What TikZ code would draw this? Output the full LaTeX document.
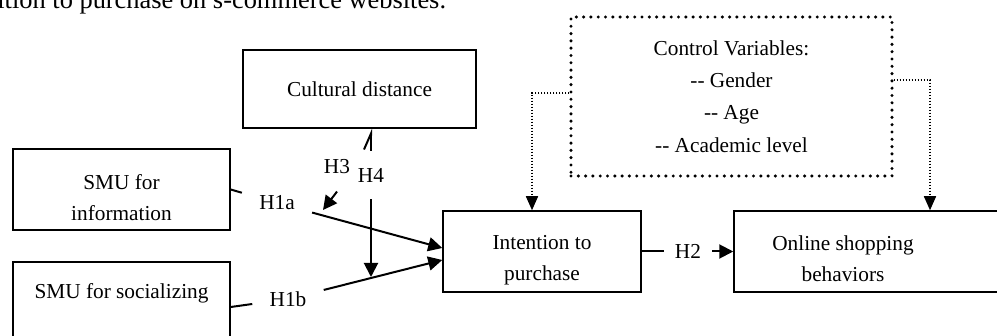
\documentclass[tikz,border=0pt]{standalone}
\usepackage{fontspec}
\setmainfont{Liberation Serif}[Ligatures=TeXOff]
\usetikzlibrary{arrows.meta}

\newcommand{\topgap}{\rule{0pt}{15.3pt}}% 1行目の上に余白を足して文字を下げる

\tikzset{
  box/.style={draw, line width=0.75pt, align=center, inner sep=0pt,
    font=\fontsize{10.65}{15.5}\selectfont},
  hyp/.style={inner sep=8.5pt, font=\fontsize{10.65}{13}\selectfont},
  link/.style={line width=1pt},
  arrow/.style={line width=1pt, -{Triangle[length=7pt,width=7pt]}},
  halftip/.style={line width=1pt, -{Straight Barb[left,length=8pt,width=7pt]}},
  ctrlbox/.style={draw, line width=1.7pt, line cap=round, dash pattern=on 0pt off 3.65pt,
    align=center, font=\fontsize{10.65}{16.2}\selectfont},
  ctrlarrow/.style={line width=0.75pt, dash pattern=on 0.7pt off 0.8pt,
    -{Triangle[length=7pt,width=6pt]}},
}

\begin{document}
\begin{tikzpicture}[x=0.5pt, y=-0.5pt]
\useasboundingbox (0,0) rectangle (997,336);
\clip (0,0) rectangle (997,336);
   %ページの一部だけを切り出す"枠"

\node[anchor=base west, inner sep=0pt, font=\fontsize{13.2}{16}\selectfont] (caption) at (-3,9)
   {ition to purchase on s-commerce websites.};
   %上の本文(左と上が切れている)

%%箱
\node[box, minimum width=108.5pt, minimum height=40.5pt] (smuinfo) at (121.5,189.5) {\topgap SMU for\\information};
\node[box, minimum width=108.5pt, minimum height=45pt] (smusoc) at (121.5,307) {SMU for socializing\\~};
   %下の箱は下端がはみ出す
\node[box, minimum width=116.5pt, minimum height=39pt] (cult) at (359.5,89) {Cultural distance};
\node[box, minimum width=99pt, minimum height=40.5pt] (intent) at (542,251.5) {\topgap Intention to\\purchase};
\node[box, minimum width=138pt, minimum height=40.5pt,
  label={[align=center, font=\fontsize{10.65}{15.5}\selectfont, xshift=-14.5pt, yshift=-3.5pt]center:Online shopping\\behaviors}]
  (online) at (872,251.5) {};
   %右端は切れているので文字はラベルで左寄せ
\node[ctrlbox, minimum width=160.5pt, minimum height=79.5pt] (ctrl) at (731.5,96.5)
   {Control Variables:\\-- Gender\\-- Age\\-- Academic level};
   %太い"点線の箱"

%%仮説のラベル
\node[hyp] (h1a) at (277,203) {H1a};
\node[hyp] (h1b) at (288,299) {H1b};
\node[hyp] (h3) at (337,167) {H3};
\node[hyp] (h4) at (371,175) {H4};
\node[hyp, inner xsep=5.5pt] (h2) at (688,251.5) {H2};
\coordinate (h3end) at (323,210);
\coordinate (h4end) at (371,277);

%%矢印
\draw[link] (smuinfo.east) -- (h1a);
\draw[arrow] (h1a) -- ([yshift=1.75pt]intent.west);
\draw[link] (smusoc.east) -- (h1b);
\draw[arrow] (h1b) -- ([yshift=-4.25pt]intent.west);
\draw[link] (intent) -- (h2);
\draw[arrow] (h2) -- (online);
\draw[arrow] (h3.south) -- (h3end);
\draw[arrow] (h4) -- (h4end);
   %H1bの線に当たる"下向きの矢印"
\draw[halftip] (h4) -- (h4 |- cult.south);
   %上の箱へは"片側だけの矢じり"

%%統制変数からの点線の矢印
\draw[ctrlarrow] ([yshift=1.75pt]ctrl.west) -| ([xshift=-5pt]intent.north);
\draw[ctrlarrow] ([yshift=8.25pt]ctrl.east) -| ([xshift=29pt]online.north);
\end{tikzpicture}
\end{document}
